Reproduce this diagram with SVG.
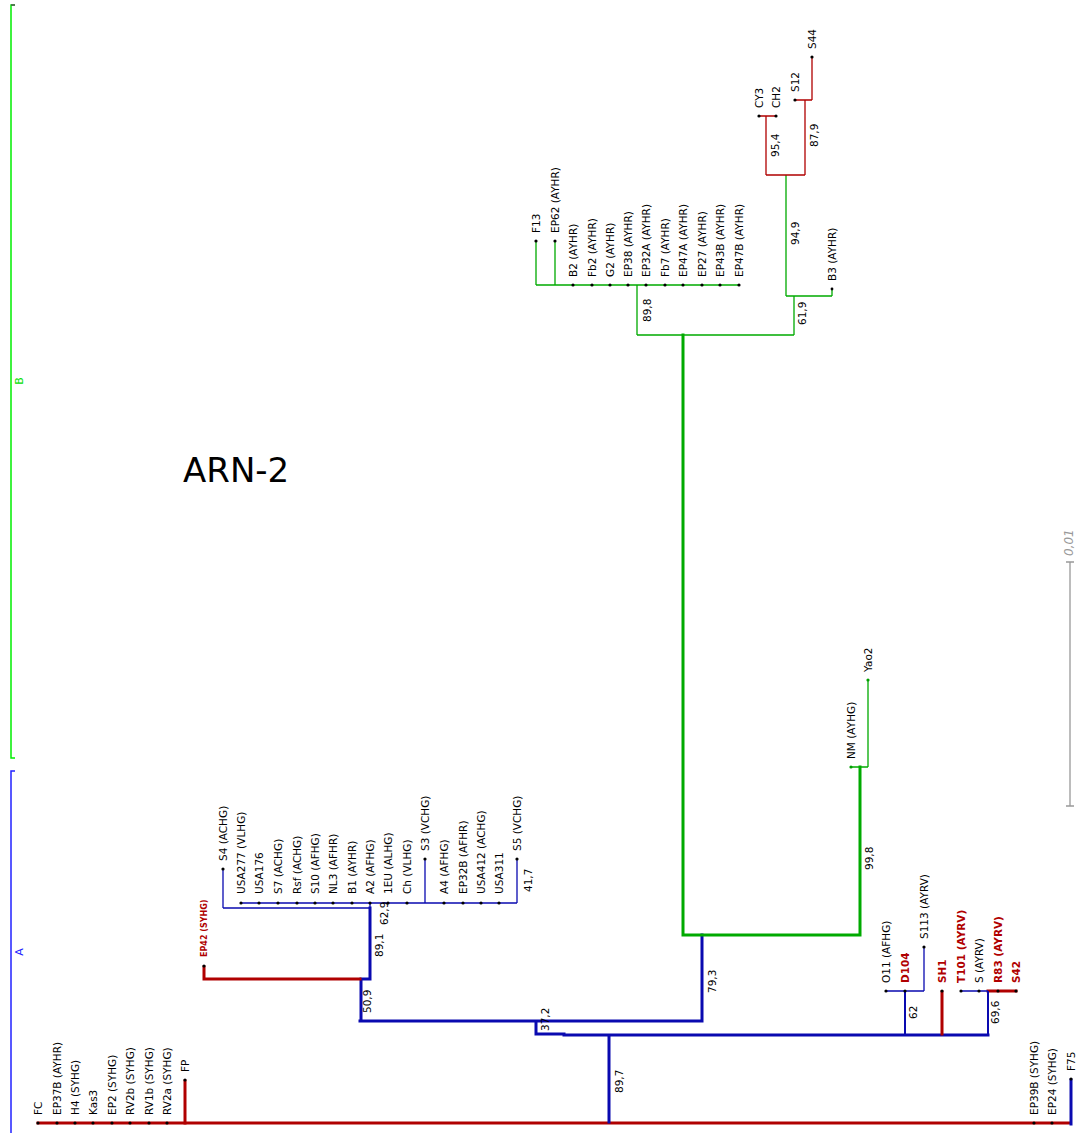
<svg xmlns="http://www.w3.org/2000/svg" width="1077" height="1133" viewBox="0 0 1077 1133">
<style>
text{font-family:"DejaVu Sans","Noto Sans",sans-serif;font-size:10.5px;fill:#000}
.rb{fill:#b00000;font-weight:bold}
.sm{font-size:8px}
.bs{font-size:10.5px}
.dot{fill:#000}
.gdot{fill:#00a000}
.thick{stroke-width:3;fill:none;stroke-linecap:square}
.thin{stroke-width:1.3;fill:none}
.mid{stroke-width:2;fill:none}
.bl{stroke:#0a0ab0}
.rd{stroke:#b00000}
.gr{stroke:#00aa00}
</style>
<rect width="1077" height="1133" fill="#fff"/>

<g id="clade-brackets">
  <path d="M15,5 H11 V758 H15" fill="none" stroke="#00ee00" stroke-width="1.5"/>
  <path d="M11,5 H15" stroke="#555" stroke-width="1.5"/>
  <text transform="translate(23,381) rotate(-90)" text-anchor="middle" style="fill:#00dd00;font-size:11px">B</text>
  <path d="M15,771 H11 V1133" fill="none" stroke="#2222ff" stroke-width="1.5"/>
  <text transform="translate(23,952) rotate(-90)" text-anchor="middle" style="fill:#2222ff;font-size:11px">A</text>
</g>

<g id="title"><text x="183" y="482" style="font-size:34px">ARN-2</text></g>

<g id="scale">
  <path d="M1070,562 V806 M1066,562 H1074 M1066,806 H1074" stroke="#999" stroke-width="1.3" fill="none"/>
  <text transform="translate(1073,556) rotate(-90)" style="fill:#999;font-style:italic;font-size:12px">0,01</text>
</g>

<g id="connectors">
  <!-- thick backbone -->
  <path class="thick rd" d="M38,1123 H1069"/>
  <path class="thick rd" d="M185,1123 V1081"/>
  <path class="thick bl" d="M1071,1124 V1080"/>
  <path class="thick bl" d="M609,1122 V1035 M564,1035 H988 M536,1034 H564 M536,1034 V1021 M360,1021 H702 M361,1021 V979 M361,979 H370 V908 M702,1021 V935"/>
  <path class="thick rd" d="M204,979 H360 M204,979 V967"/>
  <path class="thick gr" d="M683,935 H860 M683,935 V335 M860,935 V767"/>
  <path class="thick rd" d="M942,1034 V992 M988,991 H1016"/>
  <!-- thin -->
  <path class="thin bl" d="M223,908 H370 M223,908 V869 M370,908 V903 M241,903 H517 M425,903 V859 M517,903 V859"/>
  <path class="thin gr" d="M637,335 H794 M637,335 V285 M536,285 H740 M536,285 V241 M555,285 V241 M794,335 V296 M786,296 H832 M832,296 V289 M786,296 V175 M851,767 H868 M868,767 V680"/>
  <path class="thin rd" d="M766,175 H805 M766,175 V116 M759,116 H776 M805,175 V100 M795,100 H812 M812,100 V57"/>
  <path class="mid bl" d="M905,1035 V991 M988,1035 V991"/>
  <path class="thin bl" d="M886,991 H924 M924,991 V947 M961,991 H988"/>
  <!-- support values -->
  <g class="bs">
    <text transform="translate(623,1093) rotate(-90)">89,7</text>
    <text transform="translate(549,1031) rotate(-90)">37,2</text>
    <text transform="translate(716,993) rotate(-90)">79,3</text>
    <text transform="translate(371,1013) rotate(-90)">50,9</text>
    <text transform="translate(383,957) rotate(-90)">89,1</text>
    <text transform="translate(388,925) rotate(-90)">62,9</text>
    <text transform="translate(532,892) rotate(-90)">41,7</text>
    <text transform="translate(651,322) rotate(-90)">89,8</text>
    <text transform="translate(806,325) rotate(-90)">61,9</text>
    <text transform="translate(799,245) rotate(-90)">94,9</text>
    <text transform="translate(779,157) rotate(-90)">95,4</text>
    <text transform="translate(818,147) rotate(-90)">87,9</text>
    <text transform="translate(873,870) rotate(-90)">99,8</text>
    <text transform="translate(917,1019) rotate(-90)">62</text>
    <text transform="translate(999,1024) rotate(-90)">69,6</text>
  </g>
</g>

<g id="leaves">
  <g id="n-FC"><circle class="dot" cx="38" cy="1123" r="1.6"/><text transform="translate(42,1115) rotate(-90)">FC</text></g>
  <g id="n-EP37B"><circle class="dot" cx="57" cy="1123" r="1.6"/><text transform="translate(61,1115) rotate(-90)">EP37B (AYHR)</text></g>
  <g id="n-H4"><circle class="dot" cx="75" cy="1123" r="1.6"/><text transform="translate(79,1115) rotate(-90)">H4 (SYHG)</text></g>
  <g id="n-Kas3"><circle class="dot" cx="93" cy="1123" r="1.6"/><text transform="translate(97,1115) rotate(-90)">Kas3</text></g>
  <g id="n-EP2"><circle class="dot" cx="112" cy="1123" r="1.6"/><text transform="translate(116,1115) rotate(-90)">EP2 (SYHG)</text></g>
  <g id="n-RV2b"><circle class="dot" cx="130" cy="1123" r="1.6"/><text transform="translate(134,1115) rotate(-90)">RV2b (SYHG)</text></g>
  <g id="n-RV1b"><circle class="dot" cx="149" cy="1123" r="1.6"/><text transform="translate(153,1115) rotate(-90)">RV1b (SYHG)</text></g>
  <g id="n-RV2a"><circle class="dot" cx="167" cy="1123" r="1.6"/><text transform="translate(171,1115) rotate(-90)">RV2a (SYHG)</text></g>
  <g id="n-FP"><circle class="dot" cx="185" cy="1080" r="1.6"/><text transform="translate(189,1072) rotate(-90)">FP</text></g>
  <g id="n-EP39B"><circle class="dot" cx="1034" cy="1123" r="1.6"/><text transform="translate(1038,1115) rotate(-90)">EP39B (SYHG)</text></g>
  <g id="n-EP24"><circle class="dot" cx="1052" cy="1123" r="1.6"/><text transform="translate(1056,1115) rotate(-90)">EP24 (SYHG)</text></g>
  <g id="n-F75"><circle class="dot" cx="1071" cy="1079" r="1.6"/><text transform="translate(1075,1071) rotate(-90)">F75</text></g>

  <g id="n-EP42"><circle class="dot" cx="204" cy="966" r="1.6"/><text class="rb sm" transform="translate(207,957) rotate(-90)">EP42 (SYHG)</text></g>
  <g id="n-S4"><circle class="dot" cx="223" cy="869" r="1.6"/><text transform="translate(227,861) rotate(-90)">S4 (ACHG)</text></g>
  <g id="n-USA277"><circle class="dot" cx="241" cy="903" r="1.6"/><text transform="translate(245,894) rotate(-90)">USA277 (VLHG)</text></g>
  <g id="n-USA176"><circle class="dot" cx="259" cy="903" r="1.6"/><text transform="translate(263,894) rotate(-90)">USA176</text></g>
  <g id="n-S7"><circle class="dot" cx="278" cy="903" r="1.6"/><text transform="translate(282,894) rotate(-90)">S7 (ACHG)</text></g>
  <g id="n-Rsf"><circle class="dot" cx="297" cy="903" r="1.6"/><text transform="translate(301,894) rotate(-90)">Rsf (ACHG)</text></g>
  <g id="n-S10"><circle class="dot" cx="315" cy="903" r="1.6"/><text transform="translate(319,894) rotate(-90)">S10 (AFHG)</text></g>
  <g id="n-NL3"><circle class="dot" cx="333" cy="903" r="1.6"/><text transform="translate(337,894) rotate(-90)">NL3 (AFHR)</text></g>
  <g id="n-B1"><circle class="dot" cx="352" cy="903" r="1.6"/><text transform="translate(356,894) rotate(-90)">B1 (AYHR)</text></g>
  <g id="n-A2"><circle class="dot" cx="370" cy="903" r="1.6"/><text transform="translate(374,894) rotate(-90)">A2 (AFHG)</text></g>
  <g id="n-1EU"><circle class="dot" cx="388" cy="903" r="1.6"/><text transform="translate(392,894) rotate(-90)">1EU (ALHG)</text></g>
  <g id="n-Ch"><circle class="dot" cx="407" cy="903" r="1.6"/><text transform="translate(411,894) rotate(-90)">Ch (VLHG)</text></g>
  <g id="n-S3"><circle class="dot" cx="425" cy="859" r="1.6"/><text transform="translate(429,851) rotate(-90)">S3 (VCHG)</text></g>
  <g id="n-A4"><circle class="dot" cx="444" cy="903" r="1.6"/><text transform="translate(448,894) rotate(-90)">A4 (AFHG)</text></g>
  <g id="n-EP32B"><circle class="dot" cx="463" cy="903" r="1.6"/><text transform="translate(467,894) rotate(-90)">EP32B (AFHR)</text></g>
  <g id="n-USA412"><circle class="dot" cx="481" cy="903" r="1.6"/><text transform="translate(485,894) rotate(-90)">USA412 (ACHG)</text></g>
  <g id="n-USA311"><circle class="dot" cx="499" cy="903" r="1.6"/><text transform="translate(503,894) rotate(-90)">USA311</text></g>
  <g id="n-S5"><circle class="dot" cx="517" cy="859" r="1.6"/><text transform="translate(521,851) rotate(-90)">S5 (VCHG)</text></g>

  <g id="n-F13"><circle class="dot" cx="536" cy="241" r="1.6"/><text transform="translate(540,233) rotate(-90)">F13</text></g>
  <g id="n-EP62"><circle class="dot" cx="555" cy="241" r="1.6"/><text transform="translate(559,233) rotate(-90)">EP62 (AYHR)</text></g>
  <g id="n-B2"><circle class="dot" cx="573" cy="285" r="1.6"/><text transform="translate(577,277) rotate(-90)">B2 (AYHR)</text></g>
  <g id="n-Fb2"><circle class="dot" cx="592" cy="285" r="1.6"/><text transform="translate(596,277) rotate(-90)">Fb2 (AYHR)</text></g>
  <g id="n-G2"><circle class="dot" cx="610" cy="285" r="1.6"/><text transform="translate(614,277) rotate(-90)">G2 (AYHR)</text></g>
  <g id="n-EP38"><circle class="dot" cx="628" cy="285" r="1.6"/><text transform="translate(632,277) rotate(-90)">EP38 (AYHR)</text></g>
  <g id="n-EP32A"><circle class="dot" cx="646" cy="285" r="1.6"/><text transform="translate(650,277) rotate(-90)">EP32A (AYHR)</text></g>
  <g id="n-Fb7"><circle class="dot" cx="665" cy="285" r="1.6"/><text transform="translate(669,277) rotate(-90)">Fb7 (AYHR)</text></g>
  <g id="n-EP47A"><circle class="dot" cx="683" cy="285" r="1.6"/><text transform="translate(687,277) rotate(-90)">EP47A (AYHR)</text></g>
  <g id="n-EP27"><circle class="dot" cx="702" cy="285" r="1.6"/><text transform="translate(706,277) rotate(-90)">EP27 (AYHR)</text></g>
  <g id="n-EP43B"><circle class="dot" cx="720" cy="285" r="1.6"/><text transform="translate(724,277) rotate(-90)">EP43B (AYHR)</text></g>
  <g id="n-EP47B"><circle class="dot" cx="739" cy="285" r="1.6"/><text transform="translate(743,277) rotate(-90)">EP47B (AYHR)</text></g>
  <g id="n-B3"><circle class="dot" cx="832" cy="289" r="1.4"/><text transform="translate(836,281) rotate(-90)">B3 (AYHR)</text></g>
  <g id="n-CY3"><circle class="dot" cx="759" cy="116" r="1.6"/><text transform="translate(763,108) rotate(-90)">CY3</text></g>
  <g id="n-CH2"><circle class="dot" cx="776" cy="116" r="1.6"/><text transform="translate(780,108) rotate(-90)">CH2</text></g>
  <g id="n-S12"><circle class="dot" cx="795" cy="100" r="1.6"/><text transform="translate(799,92) rotate(-90)">S12</text></g>
  <g id="n-S44"><circle class="dot" cx="812" cy="57" r="1.6"/><text transform="translate(816,49) rotate(-90)">S44</text></g>

  <g id="n-NM"><circle class="gdot" cx="851" cy="767" r="1.6"/><text transform="translate(855,759) rotate(-90)">NM (AYHG)</text></g>
  <g id="n-Yao2"><circle class="gdot" cx="868" cy="680" r="1.6"/><text transform="translate(872,672) rotate(-90)">Yao2</text></g>

  <g id="n-O11"><circle class="dot" cx="886" cy="991" r="1.6"/><text transform="translate(890,983) rotate(-90)">O11 (AFHG)</text></g>
  <g id="n-D104"><circle class="dot" cx="905" cy="991" r="1.6"/><text class="rb" transform="translate(909,983) rotate(-90)">D104</text></g>
  <g id="n-S113"><circle class="dot" cx="924" cy="947" r="1.6"/><text transform="translate(928,939) rotate(-90)">S113 (AYRV)</text></g>
  <g id="n-SH1"><circle class="dot" cx="942" cy="991" r="1.6"/><text class="rb" transform="translate(946,983) rotate(-90)">SH1</text></g>
  <g id="n-T101"><circle class="dot" cx="961" cy="991" r="1.6"/><text class="rb" transform="translate(965,983) rotate(-90)">T101 (AYRV)</text></g>
  <g id="n-S"><circle class="dot" cx="979" cy="991" r="1.6"/><text transform="translate(983,983) rotate(-90)">S (AYRV)</text></g>
  <g id="n-R83"><circle class="dot" cx="998" cy="991" r="1.6"/><text class="rb" transform="translate(1002,983) rotate(-90)">R83 (AYRV)</text></g>
  <g id="n-S42"><circle class="dot" cx="1016" cy="991" r="1.6"/><text class="rb" transform="translate(1020,983) rotate(-90)">S42</text></g>
</g>
</svg>
